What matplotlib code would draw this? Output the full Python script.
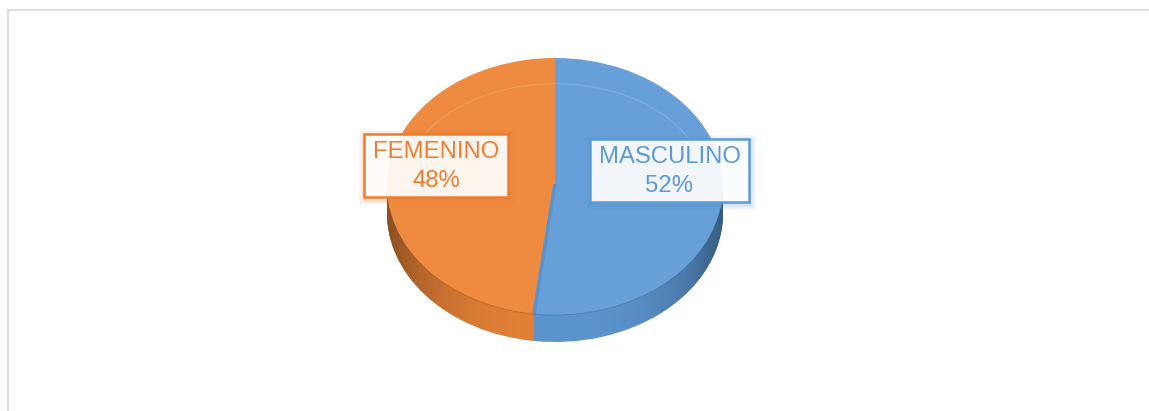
import numpy as np
import matplotlib
matplotlib.use("Agg")
import matplotlib.pyplot as plt
from matplotlib.patches import Rectangle, Polygon, Arc

labels = ["MASCULINO", "FEMENINO"]
values = [52, 48]
top_colors = ["#679fd9", "#ee8b40"]
wall_colors = ["#5b93cc", "#e07f36"]
text_colors = ["#5b9bd5", "#ed7d31"]

plt.rcParams["font.family"] = ["Liberation Sans", "DejaVu Sans"]

W, H = 1149, 411
fig = plt.figure(figsize=(W / 100, H / 100), dpi=100, facecolor="white")

# capa de fondo en pixeles, para el marco
bg = fig.add_axes([0, 0, 1, 1])
bg.set_xlim(0, W)
bg.set_ylim(H, 0)
bg.axis("off")
bg.plot([7.5, 7.5, W], [H, 10.5, 10.5], color="#dddddd", lw=1.5)

# cara superior: x 387-723, y 58-315 ; grosor 27 px
left, right, top, bottom = 387, 723, 58, 315
ry = (bottom - top) / 2
depth = 27 / ry
ax = fig.add_axes([left / W, 1 - (bottom + 27) / H, (right - left) / W, (bottom + 27 - top) / H])

# pared lateral: varias tortas apiladas
for d in np.linspace(depth, 0.02, 30):
    ax.pie(values, colors=wall_colors, startangle=90, counterclock=False,
           center=(0, -d), radius=1, wedgeprops={"linewidth": 0})

# sombreado de la pared, mas oscuro hacia los lados
t = np.linspace(0, 2 * np.pi, 300)
wx = np.cos(t)
wy = np.sin(t) - depth * (np.sin(t) < 0)
wall = Polygon(np.c_[wx, wy], closed=True, transform=ax.transData, fc="none", ec="none")
ax.add_patch(wall)
shade = np.zeros((2, 200, 4))
shade[:, :, 3] = np.abs(np.linspace(-1, 1, 200)) ** 3 * 0.38
im = ax.imshow(shade, extent=(-1, 1, -1 - depth, 1), aspect="auto", zorder=3)
im.set_clip_path(wall)

# cara superior
wedges, _ = ax.pie(values, colors=top_colors, startangle=90, counterclock=False,
                   radius=1, wedgeprops={"linewidth": 0, "zorder": 4})

# borde del corte y bisel
ang = np.deg2rad(wedges[0].theta1)
ax.plot([0, np.cos(ang)], [0.02, np.sin(ang)], color="#5a93cc", lw=2.5, zorder=5, solid_capstyle="butt")
ax.add_patch(Arc((0, 0), 1.8, 1.6, theta1=25, theta2=155, ec="#ffffff", alpha=0.12, lw=1, zorder=5))
ax.add_patch(Arc((0, 0), 2, 2, theta1=190, theta2=350, ec="#000000", alpha=0.12, lw=0.8, zorder=5))

ax.set_aspect("auto")
ax.set_xlim(-1, 1)
ax.set_ylim(-1 - depth, 1)
ax.axis("off")

# etiquetas
over = fig.add_axes([0, 0, 1, 1])
over.set_xlim(0, W)
over.set_ylim(H, 0)
over.axis("off")
over.patch.set_alpha(0)


def label_box(x0, y0, x1, y1, name, value, color):
    for g in range(7, 0, -1):
        over.add_patch(Rectangle((x0 - g + 2, y0 - g + 3), x1 - x0 + 2 * g - 2, y1 - y0 + 2 * g - 2,
                                 fc=color, ec="none", alpha=0.05))
    over.add_patch(Rectangle((x0, y0), x1 - x0, y1 - y0, fc="white", ec="none", alpha=0.92))
    over.add_patch(Rectangle((x0, y0), x1 - x0, y1 - y0, fc="none", ec=color, lw=1.8))
    cx = (x0 + x1) / 2
    over.text(cx, y0 + 18, name, color=color, fontsize=17.2, ha="center", va="center")
    over.text(cx, y0 + 47, "%d%%" % value, color=color, fontsize=17.2, ha="center", va="center")


label_box(364, 134, 508, 197, labels[1], values[1], text_colors[1])
label_box(590, 139, 749, 202, labels[0], values[0], text_colors[0])

fig.savefig("out.png", dpi=100, facecolor="white")
